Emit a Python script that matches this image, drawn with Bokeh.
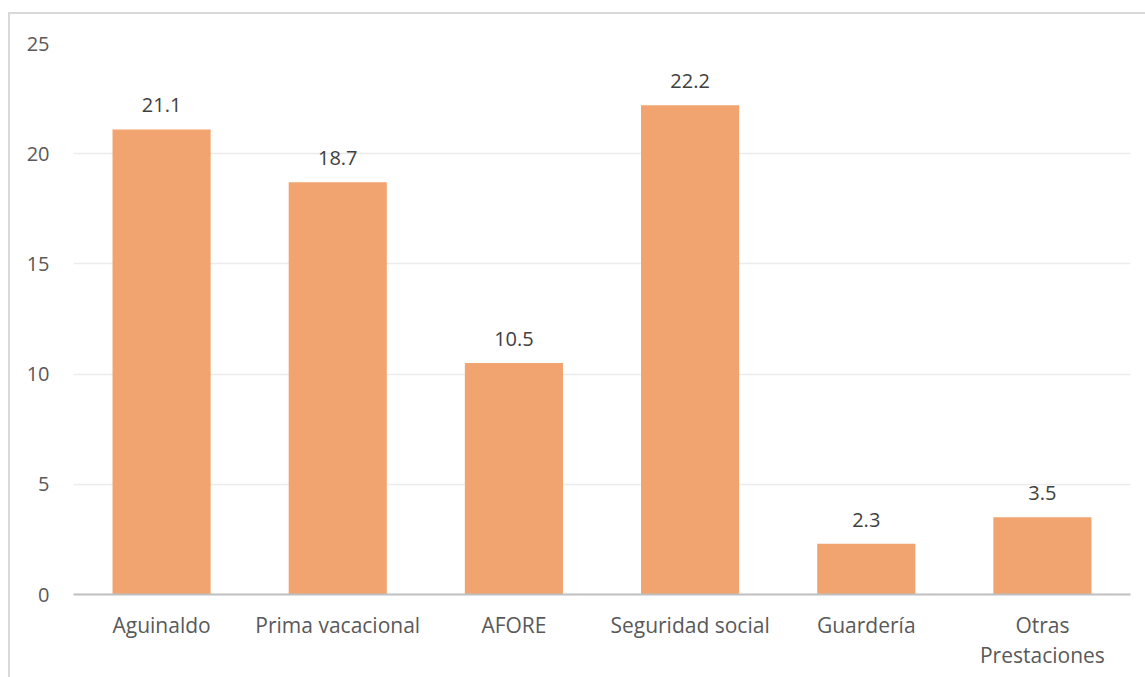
from bokeh.plotting import figure
from bokeh.models import ColumnDataSource, Range1d, LabelSet, FixedTicker
from bokeh.core.properties import value
from bokeh.layouts import column
from bokeh.embed import file_html
from bokeh.resources import INLINE

categories = ["Aguinaldo", "Prima vacacional", "AFORE", "Seguridad social",
              "Guardería", "Otras\nPrestaciones"]
values = [21.1, 18.7, 10.5, 22.2, 2.3, 3.5]
y_ticks = [0, 5, 10, 15, 20, 25]

FONT = "Open Sans"
BAR = "#F1A46F"

src = ColumnDataSource(dict(cat=categories, val=values,
                            lbl=[f"{v:.1f}" for v in values]))

p = figure(x_range=categories, y_range=Range1d(0, 25),
           width=1140, height=670, output_backend="svg", toolbar_location=None,
           min_border_left=63, min_border_right=20, min_border_top=29,
           min_border_bottom=90)
p.outline_line_color = None
p.background_fill_color = "white"
p.border_fill_color = "white"

p.vbar(x="cat", top="val", width=0.557, source=src, fill_color=BAR,
       line_color=None)

labels = LabelSet(x="cat", y="val", text="lbl", source=src,
                  text_align="center", text_baseline="bottom", y_offset=17,
                  text_font=value(FONT), text_font_size="20px",
                  text_color="#404040")
p.add_layout(labels)

p.yaxis.ticker = FixedTicker(ticks=y_ticks)
p.yaxis.axis_line_color = None
p.yaxis.major_tick_line_color = None
p.yaxis.minor_tick_line_color = None
p.yaxis.major_label_standoff = 18
p.yaxis.major_label_text_font = FONT
p.yaxis.major_label_text_font_size = "20px"
p.yaxis.major_label_text_color = "#595959"

p.xaxis.axis_line_color = "#bfbfbf"
p.xaxis.axis_line_width = 2
p.xaxis.major_tick_line_color = None
p.xaxis.minor_tick_line_color = None
p.xaxis.major_label_standoff = 10
p.xaxis.major_label_text_font = FONT
p.xaxis.major_label_text_font_size = "21px"
p.xaxis.major_label_text_color = "#595959"
p.xaxis.major_label_text_line_height = 1.1

p.xgrid.grid_line_color = None
p.ygrid.grid_line_color = "#ececec"
p.ygrid.grid_line_width = 1.5

layout = column(p, styles={"border": "2px solid #d9d9d9", "margin-left": "8px",
                           "margin-top": "12px"})

open("out.html", "w").write(file_html(layout, INLINE))
